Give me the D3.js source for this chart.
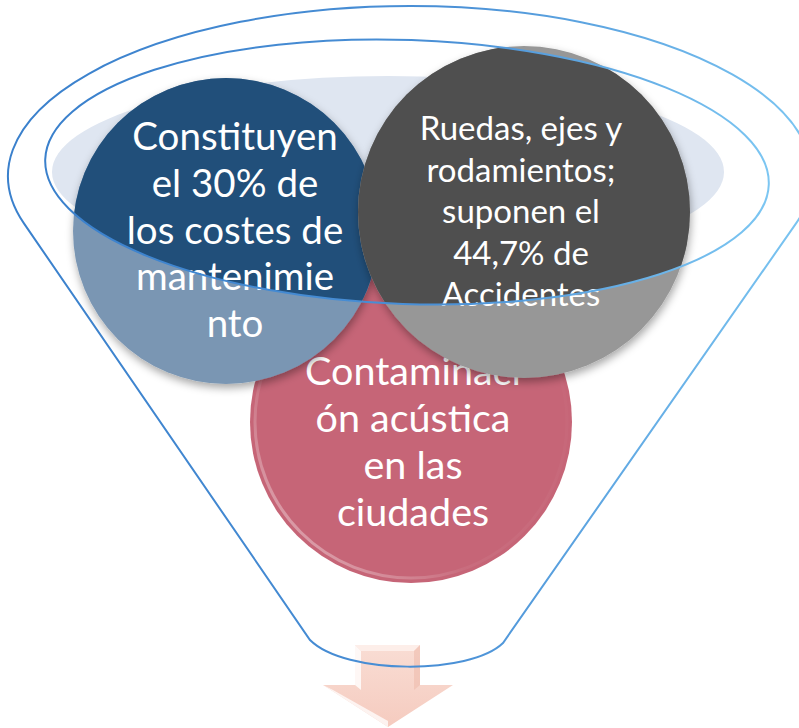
<!DOCTYPE html>
<html>
<head>
<meta charset="utf-8">
<script src="https://cdn.jsdelivr.net/npm/d3@7"></script>
<style>
  html, body { margin: 0; padding: 0; background: #fff; }
  svg { display: block; }
</style>
</head>
<body>
<div id="chart"></div>
<script>
// texts of the three circles, one entry per line
var blueLines = ["Constituyen", "el 30% de", "los costes de", "mantenimie", "nto"];
var grayLines = ["Ruedas, ejes y", "rodamientos;", "suponen el", "44,7% de", "Accidentes"];
var pinkLines = ["Contaminaci", "ón acústica", "en las", "ciudades"];

var w = 799, h = 728;

var svg = d3.select("#chart").append("svg")
    .attr("width", w)
    .attr("height", h);

var defs = svg.append("defs");

// funnel geometry
var outer = { cx: 410, cy: 176, rx: 402, ry: 170 };
var inner = { cx: 407, cy: 172, rx: 362, ry: 132, rot: 2 };
var botL = [310, 640], botR = [503, 643];

function tangent(e, p, side) {
  var px = (p[0] - e.cx) / e.rx, py = (p[1] - e.cy) / e.ry;
  var d = Math.sqrt(px * px + py * py);
  var a = Math.atan2(py, px) + side * Math.acos(1 / d);
  return [e.cx + e.rx * Math.cos(a), e.cy + e.ry * Math.sin(a)];
}
var tL = tangent(outer, botL, 1), tR = tangent(outer, botR, -1);

var lineGrad = defs.append("linearGradient").attr("id", "lineGrad")
    .attr("x1", 0).attr("x2", 1).attr("y1", 0).attr("y2", 0);
lineGrad.append("stop").attr("offset", "0%").attr("stop-color", "#3a80cc");
lineGrad.append("stop").attr("offset", "55%").attr("stop-color", "#4a90d6");
lineGrad.append("stop").attr("offset", "100%").attr("stop-color", "#7cc6f2");

var shadow = defs.append("filter").attr("id", "shadow")
    .attr("x", "-20%").attr("y", "-20%").attr("width", "140%").attr("height", "140%");
shadow.append("feDropShadow").attr("dx", 1).attr("dy", 4).attr("stdDeviation", 4)
    .attr("flood-color", "#000").attr("flood-opacity", 0.35);

defs.append("clipPath").attr("id", "innerClip")
  .append("ellipse")
    .attr("cx", inner.cx).attr("cy", inner.cy)
    .attr("rx", inner.rx).attr("ry", inner.ry)
    .attr("transform", "rotate(" + inner.rot + "," + inner.cx + "," + inner.cy + ")");

var rim = defs.append("linearGradient").attr("id", "rim")
    .attr("x1", 0).attr("y1", 1).attr("x2", 1).attr("y2", 0);
rim.append("stop").attr("offset", "0%").attr("stop-color", "#fff").attr("stop-opacity", 0.55);
rim.append("stop").attr("offset", "35%").attr("stop-color", "#fff").attr("stop-opacity", 0.05);
rim.append("stop").attr("offset", "100%").attr("stop-color", "#fff").attr("stop-opacity", 0);

// light opening
svg.append("ellipse")
    .attr("cx", 388).attr("cy", 172).attr("rx", 336).attr("ry", 96)
    .attr("fill", "#dfe6f1");

// down arrow (the funnel line passes over it)
var ax = 388;
var arrowGrad = defs.append("linearGradient").attr("id", "arrowGrad")
    .attr("x1", 0).attr("x2", 0).attr("y1", 0).attr("y2", 1);
arrowGrad.append("stop").attr("offset", "0%").attr("stop-color", "#f9ddd4");
arrowGrad.append("stop").attr("offset", "100%").attr("stop-color", "#f5cbbf");

var arrowPts = [[ax - 33, 645], [ax + 32, 645], [ax + 32, 685], [ax + 65, 685],
                [ax, 727], [ax - 65, 685], [ax - 33, 685]];
svg.append("path")
    .attr("d", d3.line()(arrowPts) + "Z")
    .attr("fill", "url(#arrowGrad)");
// bevel highlights
svg.append("path")
    .attr("d", d3.line()([[ax - 33, 645], [ax + 32, 645], [ax + 26, 651], [ax - 27, 651]]) + "Z")
    .attr("fill", "#fdeee9");
svg.append("path")
    .attr("d", d3.line()([[ax - 33, 645], [ax - 27, 651], [ax - 27, 690], [ax - 33, 685]]) + "Z")
    .attr("fill", "#fff").attr("opacity", 0.8);
svg.append("path")
    .attr("d", d3.line()([[ax - 65, 685], [ax - 55, 690], [ax, 721], [ax, 727]]) + "Z")
    .attr("fill", "#fff").attr("opacity", 0.75);
svg.append("path")
    .attr("d", d3.line()([[ax + 32, 685], [ax + 26, 690], [ax + 26, 651], [ax + 32, 645]]) + "Z")
    .attr("fill", "#eebcae").attr("opacity", 0.6);

// funnel outline
svg.append("path")
    .attr("d", "M" + tL + " A" + outer.rx + "," + outer.ry + " 0 1,1 " + tR +
      " L" + botR + " C470,675 345,675 " + botL + " Z")
    .attr("fill", "none")
    .attr("stroke", "url(#lineGrad)")
    .attr("stroke-width", 2);

function textBlock(g, lines, cx, y0, step, size) {
  var y = d3.scaleLinear().domain([0, 1]).range([y0, y0 + step]);
  g.selectAll("text.l").data(lines).join("text")
      .attr("class", "l")
      .attr("x", cx)
      .attr("y", function (d, i) { return y(i); })
      .attr("text-anchor", "middle")
      .attr("font-family", "Lato, 'Open Sans', sans-serif")
      .attr("font-size", size)
      .attr("fill", "#fff")
      .text(function (d) { return d; });
}

// pink circle (under the others)
var pink = { cx: 411, cy: 422, r: 161 };
var gp = svg.append("g");
gp.append("circle").attr("cx", pink.cx).attr("cy", pink.cy).attr("r", pink.r)
    .attr("fill", "#c66577");
gp.append("circle").attr("cx", pink.cx).attr("cy", pink.cy).attr("r", pink.r - 5)
    .attr("fill", "none").attr("stroke", "url(#rim)").attr("stroke-width", 3);
textBlock(gp, pinkLines, 413, 385, 47, 39.5);

function circle(c, dark, light, lines, ty, step, size) {
  var g = svg.append("g");
  g.append("circle").attr("cx", c.cx).attr("cy", c.cy).attr("r", c.r)
      .attr("fill", light).attr("filter", "url(#shadow)");
  g.append("circle").attr("cx", c.cx).attr("cy", c.cy).attr("r", c.r)
      .attr("fill", dark).attr("clip-path", "url(#innerClip)");
  textBlock(g, lines, c.cx + (c.tx || 0), ty, step, size);
}

circle({ cx: 226, cy: 231, r: 153, tx: 9 }, "#214f7a", "#7a96b3", blueLines, 150, 46.8, 38.5);
circle({ cx: 524, cy: 212, r: 166, tx: -3 }, "#4f4f4f", "#979797", grayLines, 140, 41.5, 33);

// funnel mouth rim on top
svg.append("ellipse")
    .attr("cx", inner.cx).attr("cy", inner.cy)
    .attr("rx", inner.rx).attr("ry", inner.ry)
    .attr("transform", "rotate(" + inner.rot + "," + inner.cx + "," + inner.cy + ")")
    .attr("fill", "none")
    .attr("stroke", "url(#lineGrad)")
    .attr("stroke-width", 2);
</script>
</body>
</html>
